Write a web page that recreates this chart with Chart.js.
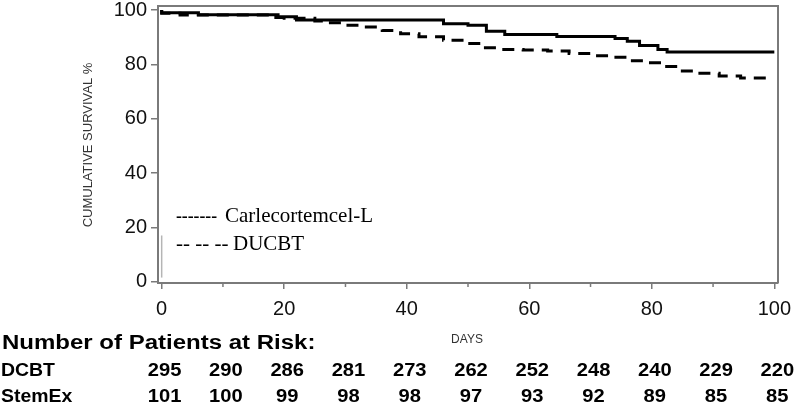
<!DOCTYPE html>
<html>
<head>
<meta charset="utf-8">
<script src="https://cdn.jsdelivr.net/npm/chart.js@4.4.1/dist/chart.umd.min.js"></script>
<style>
  html, body { margin: 0; padding: 0; background: #fff; }
  #wrap { width: 800px; height: 407px; }
</style>
</head>
<body>
<div id="wrap"><canvas id="chart" width="800" height="407"></canvas></div>
<script>
// survival curves (day, % surviving)
const carleDays = [0, 6, 19, 22, 46, 50, 53, 56, 64.5, 74, 76, 78, 81, 82.5, 84, 100];
const carleSurv = [100, 99, 98.3, 97.5, 96.3, 95, 94.4, 92.2, 91, 90.3, 89.5, 88.5, 87, 85.5, 84.6, 84.6];
const ducbtDays = [0, 3, 18, 20, 25, 27, 30, 33, 36, 39, 42, 46, 49.5, 52.5, 55.5, 59, 63, 66.5, 70, 73.5, 76.5, 79, 82, 84.5, 87.5, 91, 94.5, 99];
const ducbtSurv = [100, 98.8, 98.2, 97.3, 97, 96, 95.3, 94.4, 93.8, 92.5, 91.3, 90.2, 88.9, 87.7, 86.1, 85.5, 85.3, 84.9, 84, 83.2, 82.6, 81.3, 80.6, 79.2, 77.6, 76.7, 75.7, 75];
// little grey censor stroke near day 0
const censorDays = [0, 0];
const censorSurv = [1.5, 17];

const xTicks = [0, 20, 40, 60, 80, 100];
const xMinorTicks = [10, 30, 50, 70, 90];
const yTicks = [0, 20, 40, 60, 80, 100];

// number at risk table
const riskDays = [0, 10, 20, 30, 40, 50, 60, 70, 80, 90, 100];
const riskDCBT = [295, 290, 286, 281, 273, 262, 252, 248, 240, 229, 220];
const riskStemEx = [101, 100, 99, 98, 98, 97, 93, 92, 89, 85, 85];

const legendDashes = ['-------', '-- -- --'];
const legendNames = ['Carlecortemcel-L', 'DUCBT'];

const AXIS = '#7a7a7a';
const toPts = (xs, ys) => xs.map((x, i) => ({ x: x, y: ys[i] }));

// the source figure's sans text is a bit wider than Arial, so stretch it
function wideText(ctx, txt, x, y, sx, align) {
  ctx.save();
  ctx.translate(x, y); ctx.scale(sx, 1);
  ctx.textAlign = align;
  ctx.fillText(txt, 0, 0);
  ctx.restore();
}

const extras = {
  id: 'extras',
  afterDraw(chart) {
    const ctx = chart.ctx, a = chart.chartArea, xs = chart.scales.x;
    ctx.save();
    // frame top + right
    ctx.strokeStyle = AXIS; ctx.lineWidth = 2;
    ctx.beginPath();
    ctx.moveTo(a.left, a.top); ctx.lineTo(a.right, a.top); ctx.lineTo(a.right, a.bottom);
    ctx.stroke();
    // minor ticks on x
    ctx.lineWidth = 1.5;
    xMinorTicks.forEach(d => {
      const px = xs.getPixelForValue(d);
      ctx.beginPath(); ctx.moveTo(px, a.bottom); ctx.lineTo(px, a.bottom + 4); ctx.stroke();
    });
    // y title
    ctx.fillStyle = '#333';
    ctx.font = '13px "Liberation Sans", Arial, sans-serif';
    ctx.textAlign = 'center'; ctx.textBaseline = 'middle';
    ctx.save();
    ctx.translate(88, 145); ctx.rotate(-Math.PI / 2);
    ctx.fillText('CUMULATIVE SURVIVAL %', 0, 0);
    ctx.restore();
    // x title
    ctx.font = '12px "Liberation Sans", Arial, sans-serif';
    ctx.fillText('DAYS', 467, 340);
    // legend text inside plot
    ctx.fillStyle = '#000';
    ctx.textAlign = 'left';
    ctx.font = '21px "Liberation Serif", "Times New Roman", serif';
    wideText(ctx, legendDashes[0], 176, 216, 0.84, 'left');
    ctx.fillText(legendNames[0], 225, 216);
    ctx.fillText(legendDashes[1], 176, 244);
    ctx.fillText(legendNames[1], 233, 244);
    // risk table
    ctx.font = 'bold 20px "Liberation Sans", Arial, sans-serif';
    wideText(ctx, 'Number of Patients at Risk:', 2, 343, 1.2, 'left');
    ctx.font = 'bold 18px "Liberation Sans", Arial, sans-serif';
    wideText(ctx, 'DCBT', 1, 371, 1.08, 'left');
    wideText(ctx, 'StemEx', 1, 397, 1.08, 'left');
    riskDays.forEach((d, i) => {
      const px = xs.getPixelForValue(d) + 3;
      wideText(ctx, String(riskDCBT[i]), px, 371, 1.12, 'center');
      wideText(ctx, String(riskStemEx[i]), px, 397, 1.12, 'center');
    });
    ctx.restore();
  }
};

new Chart(document.getElementById('chart'), {
  type: 'line',
  data: {
    datasets: [
      { label: 'Carlecortemcel-L', data: toPts(carleDays, carleSurv), stepped: 'after',
        borderColor: '#000', borderWidth: 3, pointRadius: 0, fill: false },
      { label: 'DUCBT', data: toPts(ducbtDays, ducbtSurv), stepped: 'after',
        borderColor: '#000', borderWidth: 3, borderDash: [12, 8], pointRadius: 0, fill: false },
      { label: 'censor', data: toPts(censorDays, censorSurv),
        borderColor: '#b5b5b5', borderWidth: 1.5, pointRadius: 0, fill: false }
    ]
  },
  options: {
    responsive: false,
    animation: false,
    layout: { padding: { top: 6, right: 22, left: 0, bottom: 0 } },
    plugins: { legend: { display: false }, tooltip: { enabled: false } },
    scales: {
      x: {
        type: 'linear', min: -0.6, max: 100.6,
        afterBuildTicks: s => { s.ticks = xTicks.map(v => ({ value: v })); },
        afterFit: s => { s.height = 124; s.paddingLeft = 0; s.paddingRight = 0; },
        grid: { drawOnChartArea: false, color: AXIS, lineWidth: 1.5, tickLength: 6 },
        border: { color: AXIS, width: 2 },
        ticks: { color: '#111', padding: 8, maxRotation: 0,
          font: { family: '"Liberation Sans", Arial, sans-serif', size: 20 } }
      },
      y: {
        type: 'linear', min: -0.5, max: 101.5,
        afterBuildTicks: s => { s.ticks = yTicks.map(v => ({ value: v })); },
        afterFit: s => { s.width = 158; s.paddingTop = 0; s.paddingBottom = 0; },
        grid: { drawOnChartArea: false, color: AXIS, lineWidth: 1.5, tickLength: 7 },
        border: { color: AXIS, width: 2 },
        ticks: { color: '#111', padding: 4,
          font: { family: '"Liberation Sans", Arial, sans-serif', size: 20 } }
      }
    }
  },
  plugins: [extras]
});
</script>
</body>
</html>
